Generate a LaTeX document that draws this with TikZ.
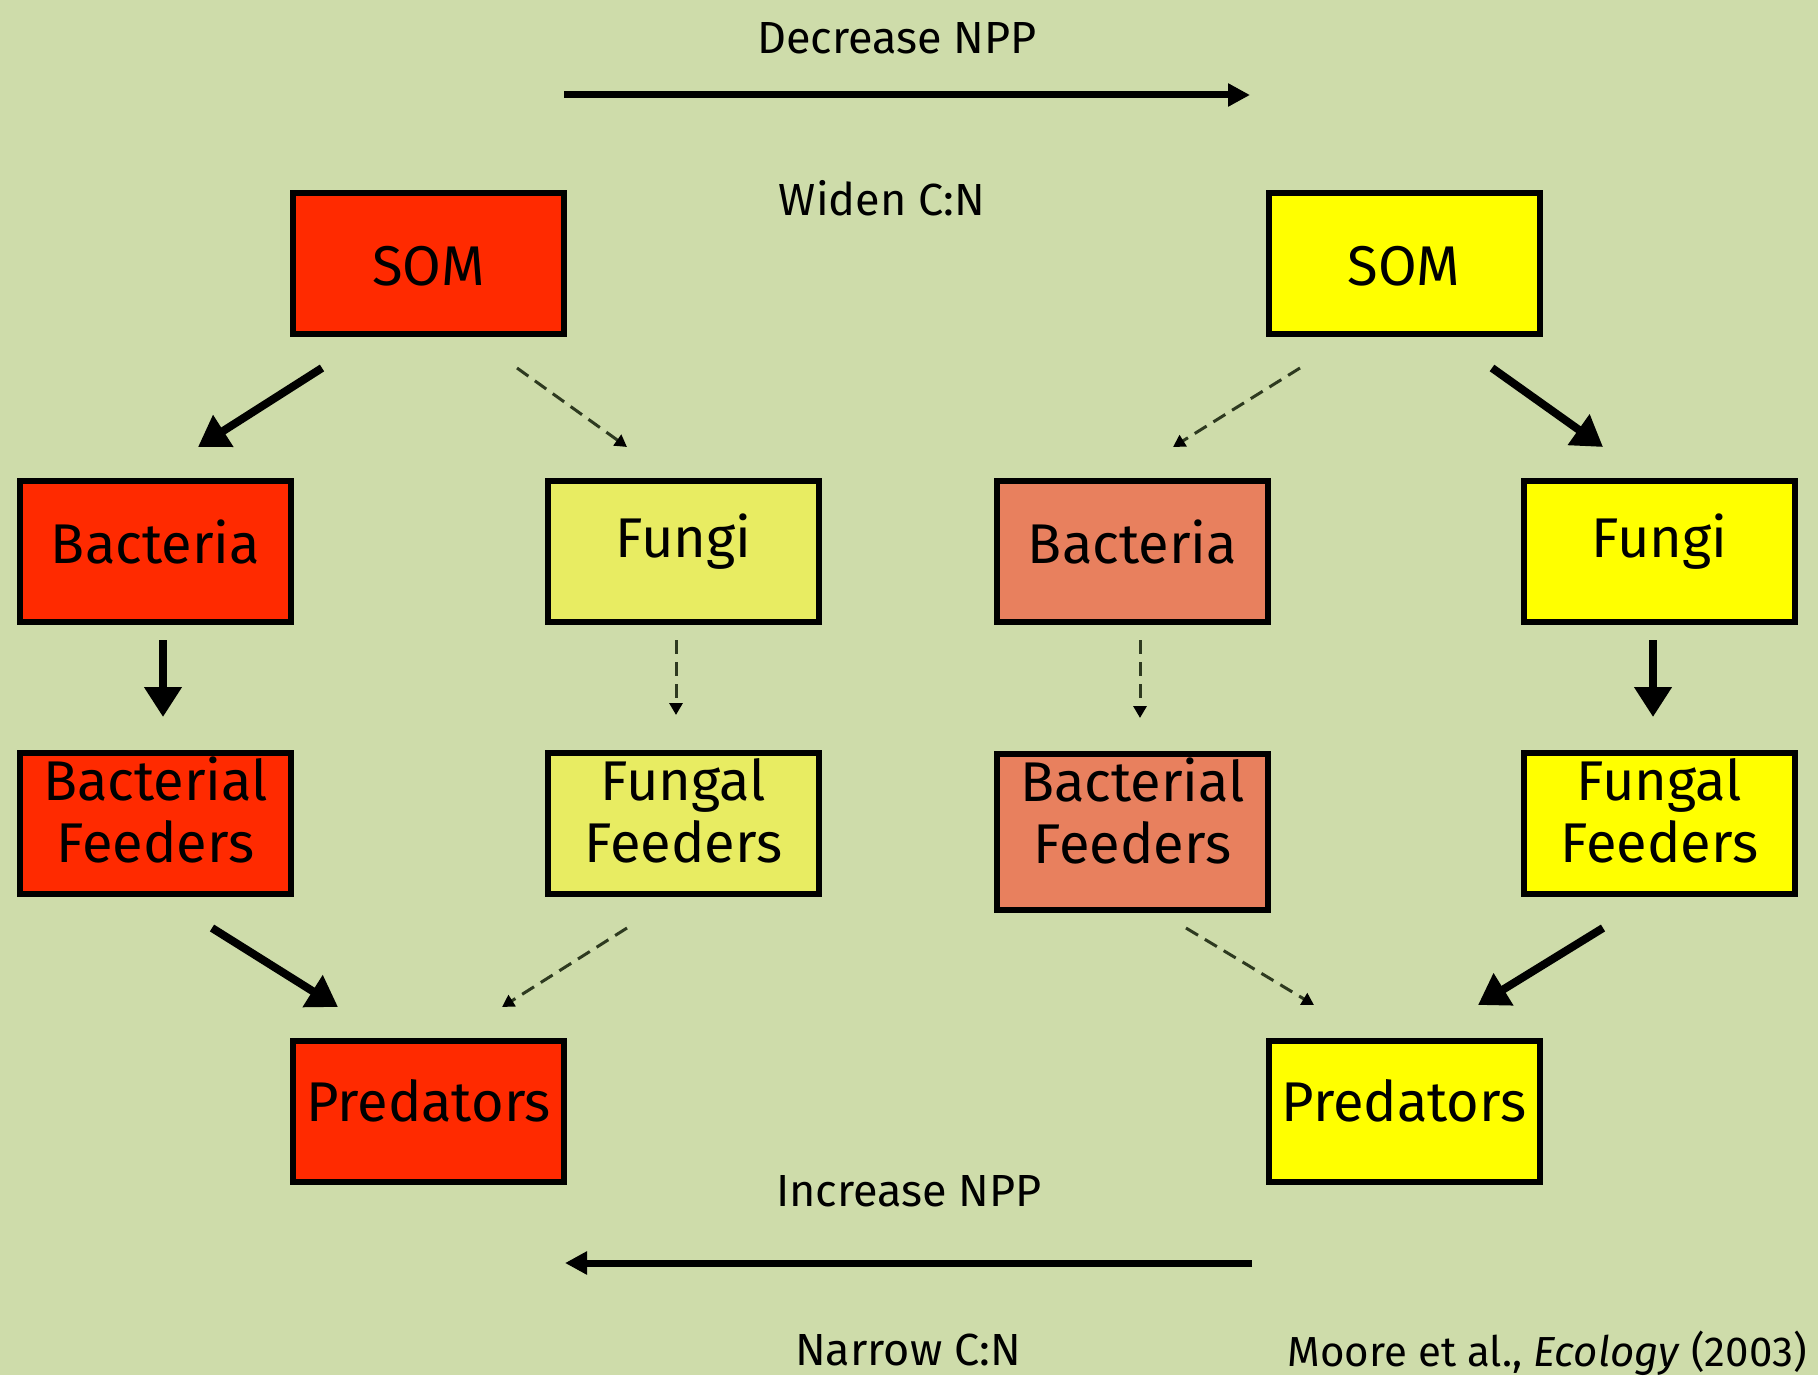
\documentclass[tikz,border=0pt]{standalone}
\usepackage{fontspec}
\setmainfont{Fira Sans}
\usetikzlibrary{arrows.meta,calc}
\definecolor{bg}{HTML}{CEDCAA}
\definecolor{hot}{HTML}{FF2A00}
\definecolor{salmon}{HTML}{E8805E}
\definecolor{paley}{HTML}{E8EC62}
\definecolor{yel}{HTML}{FFFF00}
\definecolor{dashc}{HTML}{2E3A20}
\newcommand{\liftby}[2]{\raisebox{#1}[\height][\depth]{#2}}
\newcommand{\twolines}[3][2pt]{\liftby{#1}{\begin{tabular}{@{}c@{}}#2\\#3\end{tabular}}}
\begin{document}
\begin{tikzpicture}[x=0.5pt,y=-0.5pt,
  box/.style={draw=black, line width=3pt, minimum width=135.5pt, minimum height=70.5pt,
    inner sep=0pt, align=center, font=\fontsize{28}{31}\selectfont},
  strong/.style={line width=4pt, -{Triangle[length=15pt,width=18pt]}},
  weak/.style={draw=dashc, line width=1.5pt, dash pattern=on 7pt off 4pt,
    -{Triangle[length=6pt,width=6.5pt,color=black]}},
  mainarrow/.style={line width=3.5pt, -{Triangle[length=11pt,width=11pt]}},
  lbl/.style={font=\fontsize{22.5}{26}\selectfont, inner sep=0pt}
]
\fill[bg] (0,0) rectangle (1818,1375);
\useasboundingbox (0,0) rectangle (1818,1375);

% left web
\node[box, fill=hot]   (somL)  at (428.5,263.5) {\liftby{-1.5pt}{SOM}};
\node[box, fill=hot]   (bacL)  at (155.5,551.5) {\liftby{5pt}{Bacteria}};
\node[box, fill=paley] (funL)  at (683.5,551.5) {\liftby{5pt}{Fungi}};
\node[box, fill=hot]   (bfL)   at (155.5,823) {\twolines{Bacterial}{Feeders}};
\node[box, fill=paley] (ffL)   at (683.5,823) {\twolines{Fungal}{Feeders}};
\node[box, fill=hot]   (predL) at (428.5,1111) {\liftby{5pt}{Predators}};

% right web
\node[box, fill=yel]    (somR)  at (1404,263.5) {\liftby{-1.5pt}{SOM}};
\node[box, fill=salmon] (bacR)  at (1132.5,551.5) {\liftby{5pt}{Bacteria}};
\node[box, fill=yel]    (funR)  at (1659.5,551.5) {\liftby{5pt}{Fungi}};
\node[box, fill=salmon, minimum height=78pt] (bfR) at (1132.5,832) {\twolines[6pt]{Bacterial}{Feeders}};
\node[box, fill=yel]    (ffR)   at (1659.5,823) {\twolines{Fungal}{Feeders}};
\node[box, fill=yel]    (predR) at (1404,1111) {\liftby{5pt}{Predators}};

% left arrows
\draw[strong] ($(somL)+(-106.5,104.5)$) -- ($(bacL)+(42.5,-104.5)$);
\draw[weak]   ($(somL)+(88.5,104.5)$) -- ($(funL)+(-56.5,-104.5)$);
\draw[strong] ($(bacL)+(7.5,88.5)$) -- ($(bfL)+(7.5,-106)$);
\draw[weak]   ($(funL)+(-7.5,88.5)$) -- ($(ffL)+(-7.5,-108)$);
\draw[strong] ($(bfL)+(56.5,105)$) -- ($(predL)+(-90.5,-104)$);
\draw[weak]   ($(ffL)+(-56.5,105)$) -- ($(predL)+(73.5,-104)$);

% right arrows
\draw[weak]   ($(somR)+(-104,104.5)$) -- ($(bacR)+(40.5,-104.5)$);
\draw[strong] ($(somR)+(88,104.5)$) -- ($(funR)+(-56.5,-104.5)$);
\draw[weak]   ($(bacR)+(7.5,88.5)$) -- ($(bfR)+(7.5,-114)$);
\draw[strong] ($(funR)+(-6.5,88.5)$) -- ($(ffR)+(-6.5,-106)$);
\draw[weak]   ($(bfR)+(53.5,96)$) -- ($(predR)+(-90,-106)$);
\draw[strong] ($(ffR)+(-56.5,105)$) -- ($(predR)+(74,-106)$);

% top / bottom
\node[lbl] (dec) at (897,38) {Decrease NPP};
\node[lbl] (wid) at (882,198) {Widen C:N};
\coordinate (tA) at (564,95);
\coordinate (tB) at (1250,95);
\draw[mainarrow] (tA) -- (tB);

\node[lbl] (inc) at (909,1191) {Increase NPP};
\node[lbl] (nar) at (908,1350) {Narrow C:N};
\coordinate (bA) at (1252,1263);
\coordinate (bB) at (565,1263);
\draw[mainarrow] (bA) -- (bB);

\node[lbl, anchor=base west, font=\fontsize{21}{24}\selectfont] (ref) at (1287,1366)
  {Moore et al., \textit{Ecology} (2003)};
\end{tikzpicture}
\end{document}
